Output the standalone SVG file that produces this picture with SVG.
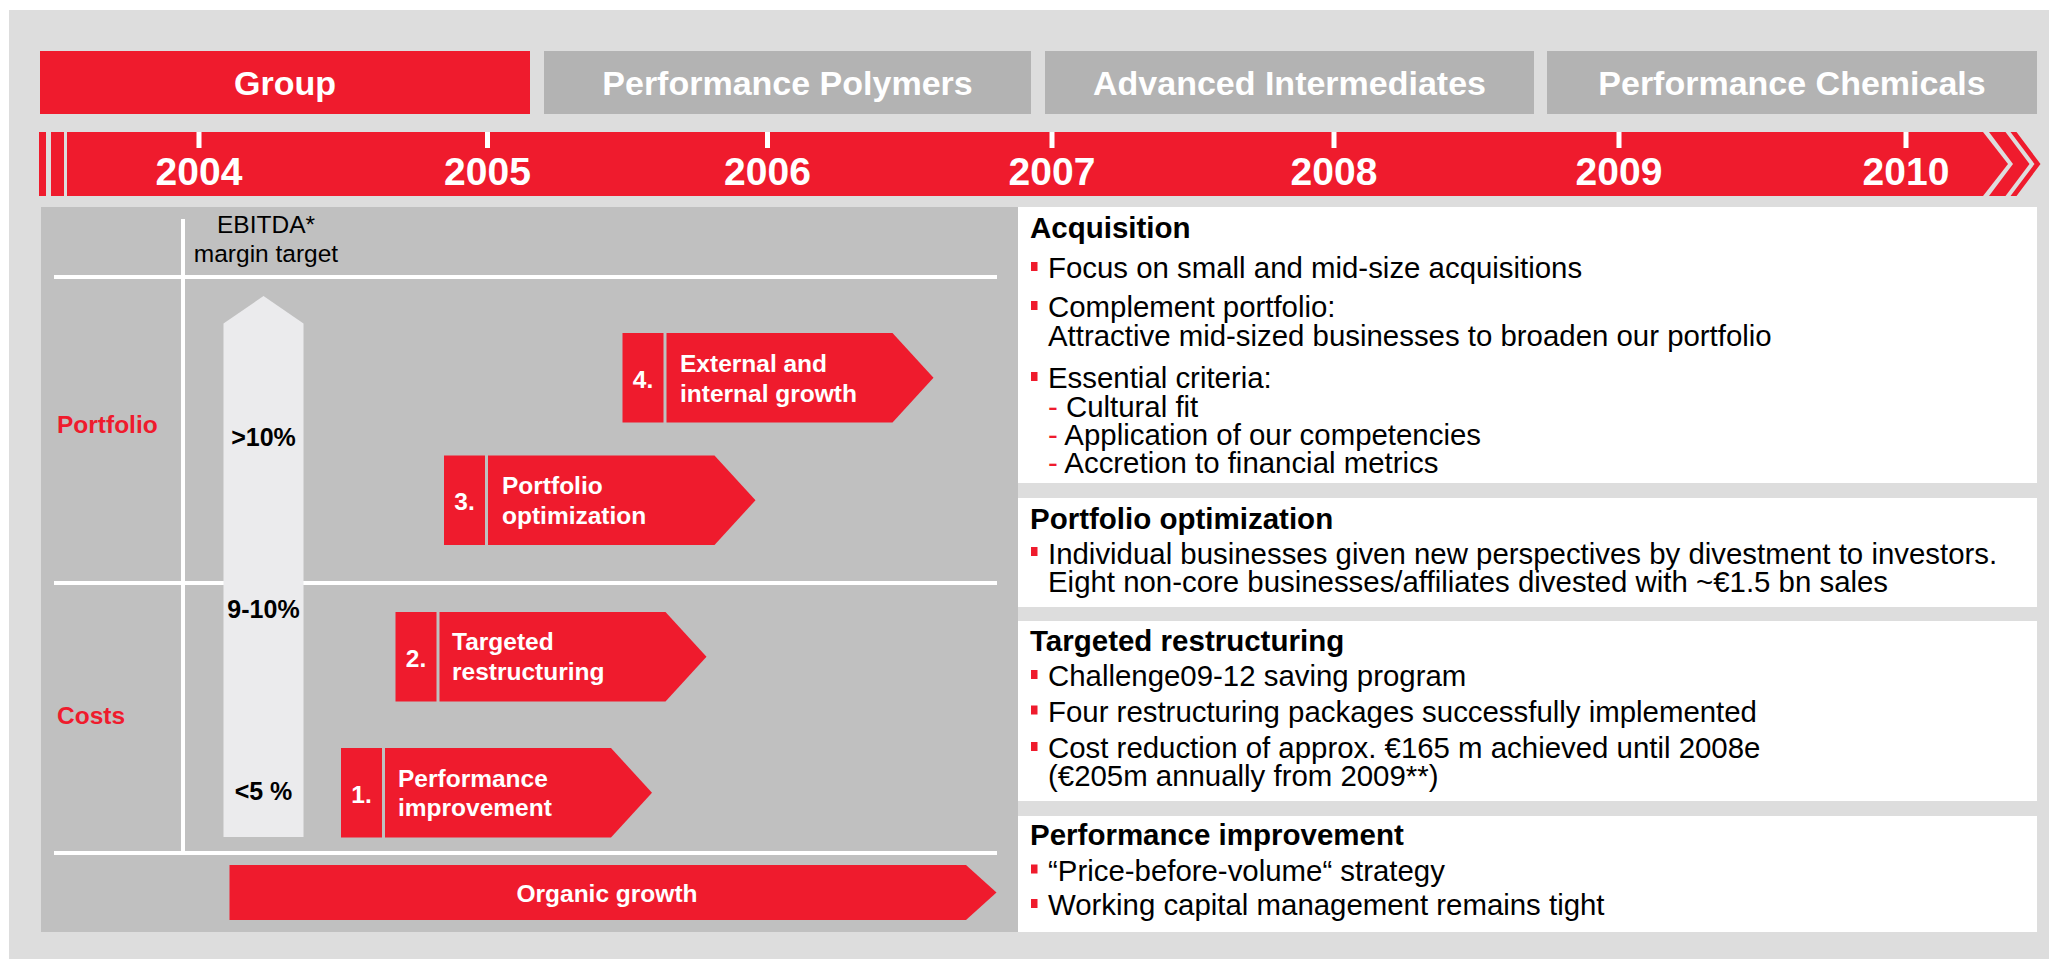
<svg xmlns="http://www.w3.org/2000/svg" width="2049" height="959" viewBox="0 0 2049 959">
<style>
text{font-family:"Liberation Sans",Arial,Helvetica,sans-serif}
.red{fill:#ef1b2d}
.hdr{font-size:34px;font-weight:bold;fill:#fff;text-anchor:middle}
.yr{font-size:39px;font-weight:bold;fill:#fff;text-anchor:middle}
.tick{fill:#fff}
.lbl{font-size:24.5px;font-weight:bold;fill:#fff}
.num{font-size:24.5px;font-weight:bold;fill:#fff;text-anchor:middle}
.side{font-size:24.5px;font-weight:bold;fill:#ef1b2d}
.pct{font-size:25px;font-weight:bold;fill:#000;text-anchor:middle}
.eb{font-size:24.5px;fill:#000;text-anchor:middle}
.ph{font-size:29.5px;font-weight:bold;fill:#000}
.pb{font-size:29.4px;fill:#000}
.dash{fill:#ef1b2d}
.wl{fill:#fff}
.panel{fill:#fff}
</style>
<defs>
<rect id="bul" width="6.5" height="9" fill="#ef1b2d"/>
</defs>
<rect x="0" y="0" width="2049" height="959" fill="#fff"/>
<rect x="9" y="10" width="2040" height="949" fill="#dddddd"/>

<g id="header-group"><rect x="40" y="51" width="490" height="63" class="red"/><text x="285" y="95" class="hdr">Group</text></g>
<g id="header-pp"><rect x="544" y="51" width="487" height="63" fill="#b3b3b3"/><text x="787.5" y="95" class="hdr">Performance Polymers</text></g>
<g id="header-ai"><rect x="1045" y="51" width="489" height="63" fill="#b3b3b3"/><text x="1289.5" y="95" class="hdr">Advanced Intermediates</text></g>
<g id="header-pc"><rect x="1547" y="51" width="490" height="63" fill="#b3b3b3"/><text x="1792" y="95" class="hdr">Performance Chemicals</text></g>

<g id="timeline">
<rect x="39" y="132" width="7" height="64" class="red"/>
<rect x="51" y="132" width="13" height="64" class="red"/>
<polygon points="67,132 1983,132 2008,164 1983,196 67,196" class="red"/>
<polygon points="1989,132 2005.5,132 2029.5,164 2005.5,196 1989,196 2013,164" class="red"/>
<polygon points="2010.5,132 2016.5,132 2040.5,164 2016.5,196 2010.5,196 2034.5,164" class="red"/>
<rect x="196.5" y="132" width="5" height="16" class="tick"/>
<rect x="485" y="132" width="5" height="16" class="tick"/>
<rect x="765" y="132" width="5" height="16" class="tick"/>
<rect x="1049.5" y="132" width="5" height="16" class="tick"/>
<rect x="1331.5" y="132" width="5" height="16" class="tick"/>
<rect x="1616.5" y="132" width="5" height="16" class="tick"/>
<rect x="1903.5" y="132" width="5" height="16" class="tick"/>
<text x="199" y="185" class="yr">2004</text>
<text x="487.5" y="185" class="yr">2005</text>
<text x="767.5" y="185" class="yr">2006</text>
<text x="1052" y="185" class="yr">2007</text>
<text x="1334" y="185" class="yr">2008</text>
<text x="1619" y="185" class="yr">2009</text>
<text x="1906" y="185" class="yr">2010</text>
</g>

<g id="matrix">
<rect x="41" y="207" width="977" height="725" fill="#c0c0c0"/>
<rect x="181" y="219" width="4" height="636" class="wl"/>
<rect x="54" y="275" width="943" height="4" class="wl"/>
<rect x="54" y="581" width="943" height="4" class="wl"/>
<rect x="54" y="851" width="943" height="4" class="wl"/>
<text x="266" y="233" class="eb">EBITDA*</text>
<text x="266" y="262" class="eb">margin target</text>
<text x="57" y="433" class="side">Portfolio</text>
<text x="57" y="724" class="side">Costs</text>
</g>

<g id="margin-arrow">
<polygon points="263.5,296 303.5,323.5 303.5,837 223.5,837 223.5,323.5" fill="#ebebed"/>
<text x="263.5" y="446" class="pct">&gt;10%</text>
<text x="263.5" y="618" class="pct">9-10%</text>
<text x="263.5" y="800" class="pct">&lt;5 %</text>
</g>

<g id="step4">
<rect x="622.5" y="333" width="41" height="89.5" class="red"/>
<polygon points="666.5,333 892.5,333 933.5,377.75 892.5,422.5 666.5,422.5" class="red"/>
<text x="643" y="387.5" class="num">4.</text>
<text x="680" y="371.5" class="lbl">External and</text>
<text x="680" y="401.5" class="lbl">internal growth</text>
</g>
<g id="step3">
<rect x="444" y="455.5" width="41" height="89.5" class="red"/>
<polygon points="488,455.5 714.5,455.5 755.5,500.25 714.5,545 488,545" class="red"/>
<text x="464.5" y="510" class="num">3.</text>
<text x="502" y="494" class="lbl">Portfolio</text>
<text x="502" y="524" class="lbl">optimization</text>
</g>
<g id="step2">
<rect x="395.5" y="612" width="41" height="89.5" class="red"/>
<polygon points="439.5,612 665.5,612 706.5,656.75 665.5,701.5 439.5,701.5" class="red"/>
<text x="416" y="666.5" class="num">2.</text>
<text x="452" y="650" class="lbl">Targeted</text>
<text x="452" y="680" class="lbl">restructuring</text>
</g>
<g id="step1">
<rect x="341" y="748" width="41" height="89.5" class="red"/>
<polygon points="385,748 611,748 652,792.75 611,837.5 385,837.5" class="red"/>
<text x="361.5" y="802.5" class="num">1.</text>
<text x="398" y="786.5" class="lbl">Performance</text>
<text x="398" y="816" class="lbl">improvement</text>
</g>
<g id="organic">
<polygon points="229.5,865 966,865 996.5,892.5 966,920 229.5,920" class="red"/>
<text x="607" y="902" class="num">Organic growth</text>
</g>

<g id="panel-acquisition">
<rect x="1018" y="207" width="1019" height="276" class="panel"/>
<text x="1030" y="237.5" class="ph">Acquisition</text>
<use href="#bul" x="1031" y="262"/>
<text x="1048" y="278" class="pb">Focus on small and mid-size acquisitions</text>
<use href="#bul" x="1031" y="301"/>
<text x="1048" y="317" class="pb">Complement portfolio:</text>
<text x="1048" y="345.5" class="pb">Attractive mid-sized businesses to broaden our portfolio</text>
<use href="#bul" x="1031" y="372"/>
<text x="1048" y="388" class="pb">Essential criteria:</text>
<text x="1048" y="416.5" class="pb"><tspan class="dash">-</tspan> Cultural fit</text>
<text x="1048" y="445" class="pb"><tspan class="dash">-</tspan> Application of our competencies</text>
<text x="1048" y="473" class="pb"><tspan class="dash">-</tspan> Accretion to financial metrics</text>
</g>
<g id="panel-portfolio">
<rect x="1018" y="498" width="1019" height="109" class="panel"/>
<text x="1030" y="528.5" class="ph">Portfolio optimization</text>
<use href="#bul" x="1031" y="547"/>
<text x="1048" y="563.5" class="pb">Individual businesses given new perspectives by divestment to investors.</text>
<text x="1048" y="592" class="pb">Eight non-core businesses/affiliates divested with ~€1.5 bn sales</text>
</g>
<g id="panel-restructuring">
<rect x="1018" y="621" width="1019" height="180" class="panel"/>
<text x="1030" y="651" class="ph">Targeted restructuring</text>
<use href="#bul" x="1031" y="670"/>
<text x="1048" y="686" class="pb">Challenge09-12 saving program</text>
<use href="#bul" x="1031" y="705.5"/>
<text x="1048" y="721.5" class="pb">Four restructuring packages successfully implemented</text>
<use href="#bul" x="1031" y="742"/>
<text x="1048" y="758" class="pb">Cost reduction of approx. €165 m achieved until 2008e</text>
<text x="1048" y="786" class="pb">(€205m annually from 2009**)</text>
</g>
<g id="panel-performance">
<rect x="1018" y="816" width="1019" height="116" class="panel"/>
<text x="1030" y="845" class="ph">Performance improvement</text>
<use href="#bul" x="1031" y="864.5"/>
<text x="1048" y="880.5" class="pb">“Price-before-volume“ strategy</text>
<use href="#bul" x="1031" y="899"/>
<text x="1048" y="915" class="pb">Working capital management remains tight</text>
</g>
</svg>
